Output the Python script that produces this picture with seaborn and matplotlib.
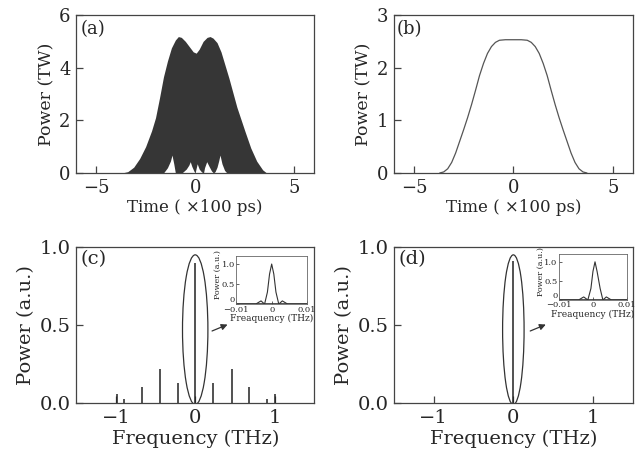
import numpy as np
import pandas as pd
import seaborn as sns
import matplotlib.pyplot as plt
from matplotlib.patches import Ellipse

# (a) 振荡脉冲: 上包络
a_time = [-3.7, -3.4, -3.1, -2.8, -2.5, -2.2, -2.0, -1.8, -1.6, -1.4, -1.2, -1.0, -0.85,
          -0.7, -0.5, -0.3, -0.1, 0.05, 0.2, 0.4, 0.6, 0.75, 0.9, 1.1, 1.3, 1.5, 1.7,
          1.9, 2.1, 2.3, 2.5, 2.8, 3.1, 3.4, 3.6]
a_upper = [0.0, 0.05, 0.22, 0.55, 1.0, 1.6, 2.1, 2.85, 3.65, 4.25, 4.75, 5.05, 5.18,
           5.15, 5.0, 4.8, 4.6, 4.55, 4.7, 5.0, 5.15, 5.18, 5.12, 4.95, 4.6, 4.1, 3.6,
           3.05, 2.5, 2.05, 1.6, 0.95, 0.45, 0.12, 0.0]
# (a) 下包络 (白色凸起)
a_low_t = [-3.7, -1.6, -1.4, -1.25, -1.17, -1.08, -1.0,
           -0.67, -0.45, -0.32, -0.25, -0.17, -0.05, 0.0,
           0.03, 0.1, 0.2, 0.32, 0.42,
           0.47, 0.58, 0.7, 0.82, 0.92,
           1.0, 1.1, 1.18, 1.25, 1.35, 1.48, 1.6, 3.6]
a_lower = [0.0, 0.0, 0.2, 0.45, 0.68, 0.35, 0.0,
           0.0, 0.15, 0.3, 0.43, 0.25, 0.05, 0.0,
           0.12, 0.35, 0.15, 0.04, 0.0,
           0.2, 0.43, 0.25, 0.08, 0.0,
           0.05, 0.22, 0.45, 0.68, 0.35, 0.1, 0.0, 0.0]

# (b) 平顶脉冲
b_time = [-3.7, -3.5, -3.3, -3.1, -2.9, -2.7, -2.5, -2.3, -2.1, -1.9, -1.7, -1.5, -1.3,
          -1.1, -0.9, -0.7, -0.4, 0.0, 0.4, 0.7, 0.9, 1.1, 1.3, 1.5, 1.7, 1.9, 2.1,
          2.3, 2.5, 2.7, 2.9, 3.1, 3.3, 3.5, 3.7]
b_power = [0.0, 0.02, 0.08, 0.2, 0.38, 0.6, 0.82, 1.05, 1.3, 1.57, 1.85, 2.08, 2.27,
           2.4, 2.48, 2.52, 2.53, 2.53, 2.53, 2.52, 2.48, 2.4, 2.27, 2.08, 1.85, 1.57, 1.3,
           1.05, 0.82, 0.6, 0.38, 0.2, 0.08, 0.02, 0.0]

# (c) 频谱线
c_freq = [-0.99, -0.90, -0.675, -0.446, -0.216, 0.0, 0.229, 0.459, 0.679, 0.909, 1.009]
c_power = [0.057, 0.023, 0.106, 0.22, 0.13, 0.90, 0.13, 0.22, 0.10, 0.023, 0.057]

# (d) 频谱线
d_freq = [0.0]
d_power = [0.91]

# 插图
ins_c_f = [-0.01, -0.0045, -0.003, -0.002, -0.0012, -0.0006, 0.0, 0.0006, 0.0012,
           0.002, 0.003, 0.0045, 0.01]
ins_c_p = [0.0, 0.0, 0.08, 0.0, 0.3, 0.75, 1.0, 0.75, 0.3, 0.0, 0.08, 0.0, 0.0]
ins_d_f = [-0.01, -0.0042, -0.0027, -0.0015, -0.0006, 0.0, 0.0006, 0.0012, 0.0021,
           0.0029, 0.0039, 0.0054, 0.01]
ins_d_p = [0.0, 0.0, 0.08, 0.0, 0.3, 0.75, 1.0, 0.75, 0.3, 0.0, 0.08, 0.0, 0.0]

sns.set_style("ticks")
plt.rcParams['font.family'] = ['DejaVu Serif']

dark = '#363636'
fig = plt.figure(figsize=(6.4, 4.58), dpi=100)
ax_a = fig.add_axes([0.119, 0.6223, 0.372, 0.345])
ax_b = fig.add_axes([0.6156, 0.6223, 0.373, 0.345])
ax_c = fig.add_axes([0.119, 0.120, 0.372, 0.3406])
ax_d = fig.add_axes([0.6156, 0.120, 0.373, 0.3406])


def style(ax, fs):
    for s in ax.spines.values():
        s.set_color('#444444')
        s.set_linewidth(0.9)
    ax.tick_params(direction='in', length=5, width=0.9, color='#444444',
                   labelsize=fs, top=False, right=False, pad=4)


# (a)
ax_a.fill_between(a_time, 0, a_upper, color=dark, lw=0)
ax_a.fill_between(a_low_t, 0, a_lower, color='white', lw=0)
ax_a.set_xlim(-6, 6)
ax_a.set_ylim(0, 6)
ax_a.set_xticks([-5, 0, 5])
ax_a.set_yticks([0, 2, 4, 6])
ax_a.set_xlabel("Time ( ×100 ps)", fontsize=12, labelpad=2)
ax_a.set_ylabel("Power (TW)", fontsize=12.5, labelpad=3)
ax_a.text(0.02, 0.97, "(a)", transform=ax_a.transAxes, fontsize=13, va='top')
style(ax_a, 13)

# (b)
sns.lineplot(x=b_time, y=b_power, ax=ax_b, color='#555555', lw=0.9)
ax_b.set_xlim(-6, 6)
ax_b.set_ylim(0, 3)
ax_b.set_xticks([-5, 0, 5])
ax_b.set_yticks([0, 1, 2, 3])
ax_b.set_xlabel("Time ( ×100 ps)", fontsize=12, labelpad=2)
ax_b.set_ylabel("Power (TW)", fontsize=12.5, labelpad=3)
ax_b.text(0.01, 0.97, "(b)", transform=ax_b.transAxes, fontsize=13, va='top')
style(ax_b, 13)


def spectrum(ax, freq, power, label, inset_rect, ins_f, ins_p, ell_w):
    ax.vlines(freq, 0, power, color='#222222', lw=1.1)
    ax.add_patch(Ellipse((0.0, 0.47), ell_w, 0.96, fill=False, ec='#333333', lw=0.9))
    ax.annotate("", xy=(0.44, 0.51), xytext=(0.18, 0.455),
                arrowprops=dict(arrowstyle='-|>', color='#333333', lw=0.9,
                                mutation_scale=9))
    ax.set_xlim(-1.5, 1.5)
    ax.set_ylim(0, 1.0)
    ax.set_xticks([-1, 0, 1])
    ax.set_yticks([0.0, 0.5, 1.0])
    ax.set_yticklabels(["0.0", "0.5", "1.0"])
    ax.set_xlabel("Frequency (THz)", fontsize=14, labelpad=2)
    ax.set_ylabel("Power (a.u.)", fontsize=14, labelpad=3)
    ax.text(0.02, 0.98, label, transform=ax.transAxes, fontsize=14, va='top')
    style(ax, 14)

    ins = fig.add_axes(inset_rect)
    sns.lineplot(x=ins_f, y=ins_p, ax=ins, color='#333333', lw=0.8)
    ins.axhline(0, color='#333333', lw=1.2)
    ins.set_xlim(-0.01, 0.01)
    ins.set_ylim(0, 1.2)
    ins.set_xticks([-0.01, 0, 0.01])
    ins.set_xticklabels(["−0.01", "0", "0.01"])
    ins.set_yticks([0, 0.5, 1.0])
    ins.set_yticklabels(["0", "0.5", "1.0"])
    ins.get_yticklabels()[0].set_va('bottom')
    ins.set_xlabel("Freaquency (THz)", fontsize=6.5, labelpad=0.5)
    ins.set_ylabel("Power (a.u.)", fontsize=5.8)
    ins.yaxis.set_label_coords(-0.2, 0.62)
    for s in ins.spines.values():
        s.set_color('#666666')
        s.set_linewidth(0.6)
    ins.tick_params(direction='in', length=2, width=0.5, labelsize=6, pad=1,
                    top=False, right=False)


spectrum(ax_c, c_freq, c_power, "(c)", [0.369, 0.336, 0.111, 0.105],
         ins_c_f, ins_c_p, 0.32)
spectrum(ax_d, d_freq, d_power, "(d)", [0.873, 0.345, 0.107, 0.100],
         ins_d_f, ins_d_p, 0.27)

fig.savefig("out.png", dpi=100)
